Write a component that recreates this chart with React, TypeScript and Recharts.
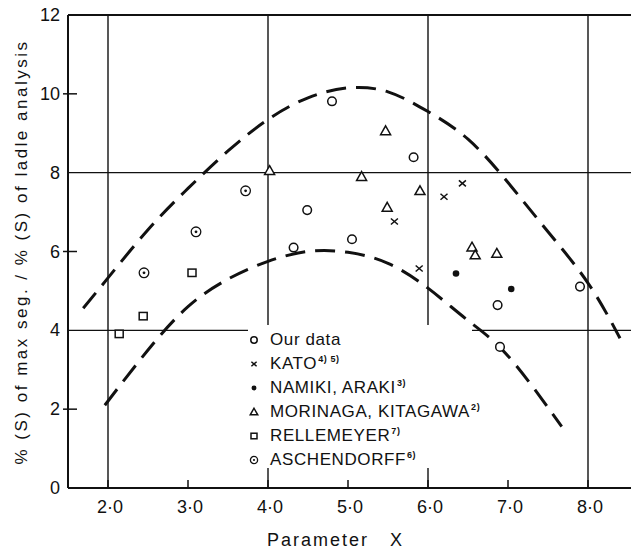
import React from "react";
import { ComposedChart, XAxis, YAxis, Scatter, Line, ReferenceLine, Legend } from "recharts";

const FONT = '"Liberation Sans", Arial, sans-serif';
const INK = "#111";

const xTicks = [2, 3, 4, 5, 6, 7, 8];
const xTickLabels = ["2·0", "3·0", "4·0", "5·0", "6·0", "7·0", "8·0"];
const yTicks = [0, 2, 4, 6, 8, 10, 12];
const yTickMarks = [2, 6, 10];
const xGrid = [2, 4, 6, 8];
const yGrid = [4, 8, 12];

const ourData = [
  { x: 4.32, y: 6.1 }, { x: 4.49, y: 7.05 }, { x: 4.8, y: 9.81 }, { x: 5.05, y: 6.31 },
  { x: 5.82, y: 8.39 }, { x: 6.87, y: 4.64 }, { x: 6.9, y: 3.58 }, { x: 7.9, y: 5.11 },
];
const kato = [
  { x: 5.58, y: 6.76 }, { x: 5.89, y: 5.57 }, { x: 6.2, y: 7.39 }, { x: 6.43, y: 7.73 },
];
const namiki = [{ x: 6.35, y: 5.44 }, { x: 7.04, y: 5.05 }];
const morinaga = [
  { x: 4.02, y: 8.05 }, { x: 5.17, y: 7.9 }, { x: 5.47, y: 9.06 }, { x: 5.49, y: 7.12 },
  { x: 5.9, y: 7.54 }, { x: 6.55, y: 6.11 }, { x: 6.59, y: 5.91 }, { x: 6.86, y: 5.95 },
];
const rellemeyer = [{ x: 2.14, y: 3.91 }, { x: 2.44, y: 4.36 }, { x: 3.05, y: 5.46 }];
const aschendorff = [{ x: 2.45, y: 5.46 }, { x: 3.1, y: 6.5 }, { x: 3.72, y: 7.54 }];

// dashed envelope curves
const upperCurve = [
  { x: 1.69, y: 4.56 }, { x: 2.0, y: 5.33 }, { x: 2.5, y: 6.55 }, { x: 3.0, y: 7.6 },
  { x: 3.5, y: 8.55 }, { x: 4.0, y: 9.35 }, { x: 4.5, y: 9.9 }, { x: 5.0, y: 10.15 },
  { x: 5.5, y: 10.05 }, { x: 6.0, y: 9.55 }, { x: 6.5, y: 8.85 }, { x: 7.0, y: 7.75 },
  { x: 7.5, y: 6.5 }, { x: 8.0, y: 5.2 }, { x: 8.4, y: 3.8 },
];
const lowerCurve = [
  { x: 1.96, y: 2.1 }, { x: 2.5, y: 3.5 }, { x: 3.0, y: 4.6 }, { x: 3.5, y: 5.3 },
  { x: 4.0, y: 5.75 }, { x: 4.5, y: 6.0 }, { x: 5.0, y: 5.98 }, { x: 5.5, y: 5.7 },
  { x: 6.0, y: 5.07 }, { x: 6.5, y: 4.25 }, { x: 7.0, y: 3.35 }, { x: 7.67, y: 1.56 },
];

const seriesNames = ["Our data", "KATO", "NAMIKI, ARAKI", "MORINAGA, KITAGAWA", "RELLEMEYER", "ASCHENDORFF"];
const seriesRefs = ["", "4) 5)", "3)", "2)", "7)", "6)"];
const seriesKinds = ["circle", "cross", "dot", "triangle", "square", "ringdot"];

function symbol(kind: string, cx: number, cy: number, s = 1) {
  const sw = 1.5;
  switch (kind) {
    case "circle":
      return <circle cx={cx} cy={cy} r={4.3 * s} fill="#fff" stroke={INK} strokeWidth={sw} />;
    case "cross":
      return (
        <g stroke={INK} strokeWidth={sw}>
          <line x1={cx - 3.5 * s} y1={cy - 3 * s} x2={cx + 3.5 * s} y2={cy + 3 * s} />
          <line x1={cx - 3.5 * s} y1={cy + 3 * s} x2={cx + 3.5 * s} y2={cy - 3 * s} />
        </g>
      );
    case "dot":
      return <circle cx={cx} cy={cy} r={3.3 * s} fill={INK} />;
    case "triangle":
      return (
        <path
          d={`M${cx},${cy - 5 * s} L${cx + 5 * s},${cy + 3.8 * s} L${cx - 5 * s},${cy + 3.8 * s} Z`}
          fill="#fff"
          stroke={INK}
          strokeWidth={sw}
        />
      );
    case "square":
      return <rect x={cx - 4 * s} y={cy - 3.7 * s} width={8 * s} height={7.4 * s} fill="#fff" stroke={INK} strokeWidth={sw} />;
    default:
      return (
        <g>
          <circle cx={cx} cy={cy} r={4.8 * s} fill="#fff" stroke={INK} strokeWidth={1.3} />
          <circle cx={cx} cy={cy} r={1.4 * s} fill={INK} />
        </g>
      );
  }
}

const makeShape = (kind: string) => (props: any) => symbol(kind, props.cx, props.cy);

const XTick = ({ x, y, payload }: any) => (
  <g>
    <line x1={x} x2={x} y1={y} y2={y - 8} stroke={INK} strokeWidth={1.5} />
    <text x={x + 2} y={y + 25} textAnchor="middle" fontSize={18} fontFamily={FONT} fill={INK}>
      {xTickLabels[xTicks.indexOf(payload.value)]}
    </text>
  </g>
);

const YTick = ({ x, y, payload }: any) => (
  <g>
    {yTickMarks.includes(payload.value) && (
      <line x1={x - 5} x2={x + 9} y1={y} y2={y} stroke={INK} strokeWidth={1.5} />
    )}
    <text x={x - 8} y={y + 6} textAnchor="end" fontSize={18} fontFamily={FONT} fill={INK}>
      {payload.value}
    </text>
  </g>
);

const LegendBox = () => (
  <div style={{ background: "#fff", paddingTop: 3, fontFamily: FONT, fontSize: 17, color: INK, height: 143, boxSizing: "border-box" }}>
    {seriesNames.map((name, i) => (
      <div key={name} style={{ display: "flex", alignItems: "center", height: 24 }}>
        <svg width={12} height={12} style={{ flex: "none" }}>
          {symbol(seriesKinds[i], 6, 6, 0.75)}
        </svg>
        <span style={{ marginLeft: 10, letterSpacing: 0.6, whiteSpace: "nowrap" }}>
          {name}
          <sup style={{ fontSize: 9, fontWeight: "bold", marginLeft: 1 }}>{seriesRefs[i]}</sup>
        </span>
      </div>
    ))}
  </div>
);

const scatterSets = [ourData, kato, namiki, morinaga, rellemeyer, aschendorff];

export default function App() {
  return (
    <div style={{ position: "absolute", left: 0, top: 0, width: 631, height: 550, background: "#fff" }}>
      <ComposedChart width={631} height={550} margin={{ top: 15, right: 0, bottom: 32, left: 8 }}>
        <XAxis
          type="number"
          dataKey="x"
          domain={[1.5, 8.5375]}
          ticks={xTicks}
          allowDataOverflow
          height={30}
          tickLine={false}
          tickSize={0}
          tickMargin={0}
          axisLine={{ stroke: INK, strokeWidth: 2 }}
          tick={<XTick />}
        />
        <YAxis
          type="number"
          domain={[0, 12]}
          ticks={yTicks}
          allowDataOverflow
          width={60}
          tickLine={false}
          tickSize={0}
          tickMargin={0}
          axisLine={{ stroke: INK, strokeWidth: 2 }}
          tick={<YTick />}
        />
        {xGrid.map((v) => (
          <ReferenceLine key={`vx${v}`} x={v} stroke={INK} strokeWidth={1.4} />
        ))}
        {yGrid.map((v) => (
          <ReferenceLine key={`hy${v}`} y={v} stroke={INK} strokeWidth={v === 12 ? 2 : 1.4} />
        ))}
        <Line
          data={upperCurve}
          dataKey="y"
          type="natural"
          stroke={INK}
          strokeWidth={3}
          strokeDasharray="20 10"
          dot={false}
          activeDot={false}
          legendType="none"
          isAnimationActive={false}
        />
        <Line
          data={lowerCurve}
          dataKey="y"
          type="natural"
          stroke={INK}
          strokeWidth={3}
          strokeDasharray="20 10"
          dot={false}
          activeDot={false}
          legendType="none"
          isAnimationActive={false}
        />
        {scatterSets.map((set, i) => (
          <Scatter
            key={seriesNames[i]}
            name={seriesNames[i]}
            data={set}
            dataKey="y"
            shape={makeShape(seriesKinds[i])}
            isAnimationActive={false}
          />
        ))}
        <Legend
          layout="vertical"
          align="center"
          verticalAlign="middle"
          content={<LegendBox />}
          wrapperStyle={{ left: 248, top: 325, width: 224, height: 143 }}
        />
      </ComposedChart>
      <div
        style={{
          position: "absolute",
          left: 22 - 240,
          top: 252 - 11,
          width: 480,
          height: 22,
          lineHeight: "22px",
          textAlign: "center",
          transform: "rotate(-90deg)",
          fontFamily: FONT,
          fontSize: 17,
          letterSpacing: 2.5,
          color: INK,
          whiteSpace: "nowrap",
        }}
      >
        % (S) of max seg. / % (S) of ladle analysis
      </div>
      <div
        style={{
          position: "absolute",
          left: 267,
          top: 531,
          fontFamily: FONT,
          fontSize: 18,
          lineHeight: 1,
          letterSpacing: 2,
          wordSpacing: 14,
          color: INK,
          whiteSpace: "nowrap",
        }}
      >
        Parameter X
      </div>
    </div>
  );
}
